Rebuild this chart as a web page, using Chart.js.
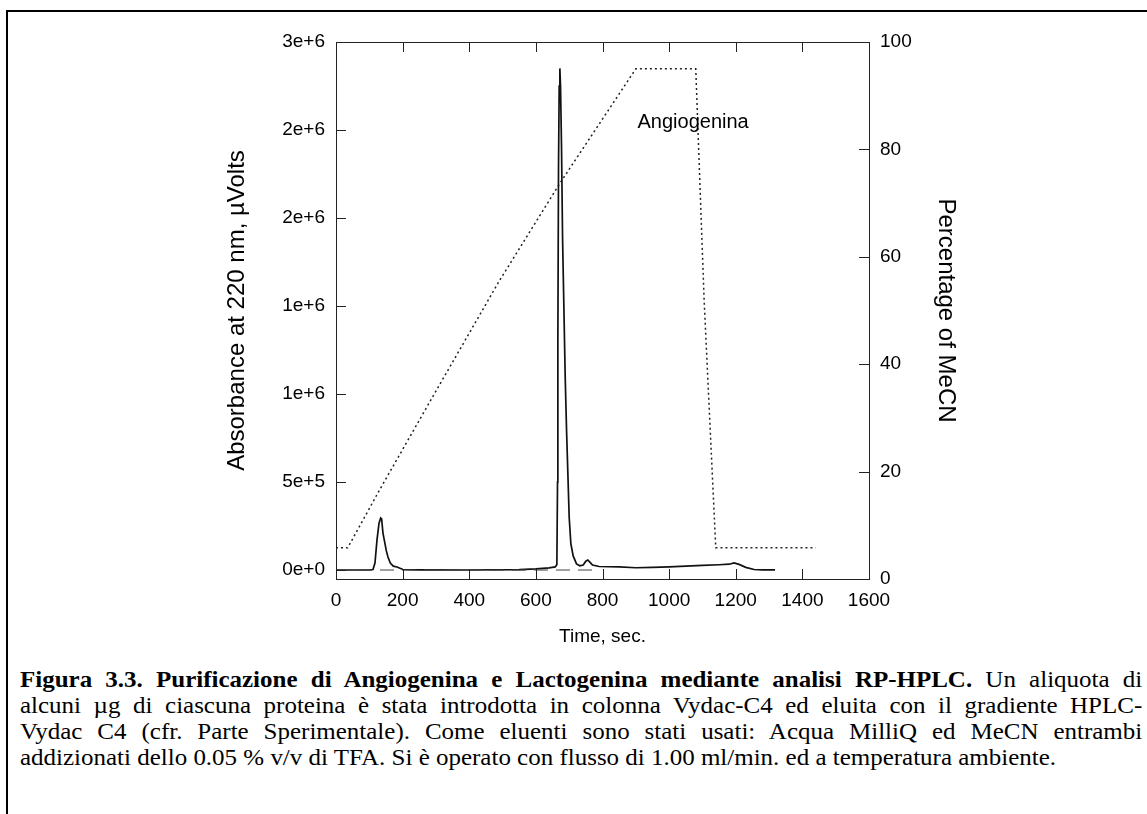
<!DOCTYPE html>
<html lang="it">
<head>
    <meta charset="utf-8">
    <title>Figura 3.3 - RP-HPLC</title>
    <script src="https://cdn.jsdelivr.net/npm/chart.js@4.4.1/dist/chart.umd.min.js"></script>
    <style>
        html, body { margin: 0; padding: 0; background: #fff; overflow: hidden; }
        body { width: 1147px; height: 814px; position: relative; }
        .frame {
            position: absolute; left: 6px; top: 10px; width: 1400px; height: 1000px;
            border-left: 2px solid #000; border-top: 2px solid #000;
        }
        #chart { position: absolute; left: 0; top: 0; }
        .caption {
            position: absolute; left: 20px; top: 667px; width: 1011px;
            transform: scaleX(1.11); transform-origin: 0 0;
            font-family: "Liberation Serif", "Times New Roman", serif;
            font-size: 22.5px; line-height: 26px; color: #000;
        }
        .caption .j { text-align: justify; text-align-last: justify; }
    </style>
</head>
<body>
<div class="frame"></div>
<canvas id="chart" width="1147" height="660" style="width:1147px;height:660px"></canvas>

<div class="caption">
    <div class="j"><b>Figura 3.3. Purificazione di Angiogenina e Lactogenina mediante analisi RP-HPLC.</b> Un aliquota di</div>
    <div class="j">alcuni µg di ciascuna proteina è stata introdotta in colonna Vydac-C4 ed eluita con il gradiente HPLC-</div>
    <div class="j">Vydac C4 (cfr. Parte Sperimentale). Come eluenti sono stati usati: Acqua MilliQ ed MeCN entrambi</div>
    <div>addizionati dello 0.05 % v/v di TFA. Si è operato con flusso di 1.00 ml/min. ed a temperatura ambiente.</div>
</div>

<script>
    // cromatogramma (assorbanza 220 nm, µVolts)
    var chromTime = [0, 50, 100, 111, 117, 123, 129, 134, 137, 141, 146, 151, 156, 163, 172, 183, 201, 250, 400, 550,
        600, 640, 658, 663, 665, 666, 668, 670, 672, 674, 677, 680, 684, 688, 692, 696, 700, 705, 712, 722, 732,
        742, 750, 756, 762, 770, 790, 850, 900, 950, 1000, 1050, 1100, 1150, 1180, 1195, 1210, 1230, 1255, 1280, 1318];
    var chromAbs = [0, 0, 0, 3000, 40000, 170000, 265000, 295000, 290000, 210000, 160000, 110000, 74000, 40000, 22000, 17000, 3000, 1000, 0, 2000,
        6000, 12000, 18000, 30000, 500000, 1300000, 2300000, 2750000, 2850000, 2750000, 2400000, 1900000, 1500000, 1100000, 800000, 550000, 300000, 150000, 80000, 35000, 24000,
        28000, 50000, 57000, 45000, 28000, 20000, 18000, 13000, 15000, 18000, 22000, 26000, 30000, 33000, 40000, 32000, 15000, 3000, 1000, 1000];

    // gradiente MeCN (%)
    var gradTime = [0, 35, 130, 300, 490, 670, 900, 1080, 1105, 1140, 1440];
    var gradPct = [5.8, 5.8, 16.5, 35, 55.5, 73.5, 95, 95, 52, 5.8, 5.8];

    // linea di base tratteggiata
    var baseTime = [0, 780];
    var baseAbs = [0, 0];

    var timeTicks = [0, 200, 400, 600, 800, 1000, 1200, 1400, 1600];
    var absTicks = [0, 500000, 1000000, 1500000, 2000000, 2500000, 3000000];
    var absTickLabels = ['0e+0', '5e+5', '1e+6', '1e+6', '2e+6', '2e+6', '3e+6'];
    var pctTicks = [0, 20, 40, 60, 80, 100];

    var peakLabel = 'Angiogenina';

    function toPoints(xs, ys) {
        var out = [];
        for (var i = 0; i < xs.length; i++) {
            out.push({x: xs[i], y: ys[i]});
        }
        return out;
    }

    var sans = '"Liberation Sans", Arial, sans-serif';

    // cornice + tacche verso l'interno + etichetta del picco
    var frameTicks = {
        id: 'frameTicks',
        afterDraw: function (chart) {
            var ctx = chart.ctx, a = chart.chartArea, s = chart.scales;
            var len = 10;
            ctx.save();
            ctx.strokeStyle = '#222';
            ctx.lineWidth = 1;
            ctx.strokeRect(Math.round(a.left) + 0.5, Math.round(a.top) + 0.5,
                Math.round(a.right - a.left), Math.round(a.bottom - a.top));
            ctx.beginPath();
            timeTicks.forEach(function (v) {
                var px = Math.round(s.x.getPixelForValue(v)) + 0.5;
                ctx.moveTo(px, a.bottom); ctx.lineTo(px, a.bottom - len);
                ctx.moveTo(px, a.top); ctx.lineTo(px, a.top + len);
            });
            absTicks.forEach(function (v) {
                var py = Math.round(s.y.getPixelForValue(v)) + 0.5;
                ctx.moveTo(a.left, py); ctx.lineTo(a.left + len, py);
            });
            pctTicks.forEach(function (v) {
                var py = Math.round(s.y2.getPixelForValue(v)) + 0.5;
                ctx.moveTo(a.right, py); ctx.lineTo(a.right - len, py);
            });
            ctx.stroke();

            ctx.fillStyle = '#000';
            ctx.font = '20px ' + sans;
            ctx.textAlign = 'left';
            ctx.textBaseline = 'middle';
            ctx.fillText(peakLabel, s.x.getPixelForValue(905), s.y2.getPixelForValue(85));
            ctx.restore();
        }
    };

    new Chart(document.getElementById('chart'), {
        type: 'line',
        data: {
            datasets: [{
                label: 'base',
                data: toPoints(baseTime, baseAbs),
                yAxisID: 'y',
                borderColor: '#444',
                borderWidth: 1,
                borderDash: [14, 8],
                pointRadius: 0
            }, {
                label: 'Absorbance',
                data: toPoints(chromTime, chromAbs),
                yAxisID: 'y',
                borderColor: '#111',
                borderWidth: 1.7,
                pointRadius: 0,
                tension: 0
            }, {
                label: 'MeCN',
                data: toPoints(gradTime, gradPct),
                yAxisID: 'y2',
                borderColor: '#222',
                borderWidth: 1.5,
                borderDash: [2, 3],
                pointRadius: 0
            }]
        },
        options: {
            responsive: false,
            animation: false,
            events: [],
            layout: {padding: {left: 200, right: 180, top: 42, bottom: 0}},
            plugins: {
                legend: {display: false},
                tooltip: {enabled: false}
            },
            scales: {
                x: {
                    type: 'linear',
                    position: 'bottom',
                    min: 0,
                    max: 1600,
                    afterBuildTicks: function (sc) {
                        sc.ticks = timeTicks.map(function (v) { return {value: v}; });
                    },
                    afterFit: function (sc) { sc.height = 81; },
                    grid: {display: false, drawTicks: false},
                    border: {display: false},
                    ticks: {
                        color: '#000', padding: 10, maxRotation: 0, autoSkip: false,
                        font: {family: sans, size: 19},
                        callback: function (v) { return String(v); }
                    },
                    title: {
                        display: true, text: 'Time, sec.', color: '#000',
                        font: {family: sans, size: 19},
                        padding: {top: 0, bottom: 12}
                    }
                },
                y: {
                    type: 'linear',
                    position: 'left',
                    min: -51000,
                    max: 3000000,
                    afterBuildTicks: function (sc) {
                        sc.ticks = absTicks.map(function (v) { return {value: v}; });
                    },
                    afterFit: function (sc) { sc.width = 136; },
                    grid: {display: false, drawTicks: false},
                    border: {display: false},
                    ticks: {
                        color: '#000', padding: 11, autoSkip: false,
                        font: {family: sans, size: 19},
                        callback: function (v, i) { return absTickLabels[i]; }
                    },
                    title: {
                        display: true, text: 'Absorbance at 220 nm, µVolts', color: '#000',
                        font: {family: sans, size: 24},
                        padding: {top: 23, bottom: 0}
                    }
                },
                y2: {
                    type: 'linear',
                    position: 'right',
                    min: 0,
                    max: 100,
                    afterBuildTicks: function (sc) {
                        sc.ticks = pctTicks.map(function (v) { return {value: v}; });
                    },
                    afterFit: function (sc) { sc.width = 98; },
                    grid: {display: false, drawTicks: false},
                    border: {display: false},
                    ticks: {
                        color: '#000', padding: 11, autoSkip: false,
                        font: {family: sans, size: 19}
                    },
                    title: {
                        display: true, text: 'Percentage of MeCN', color: '#000',
                        font: {family: sans, size: 24},
                        padding: {top: 7, bottom: 0}
                    }
                }
            }
        },
        plugins: [frameTicks]
    });
</script>
</body>
</html>
